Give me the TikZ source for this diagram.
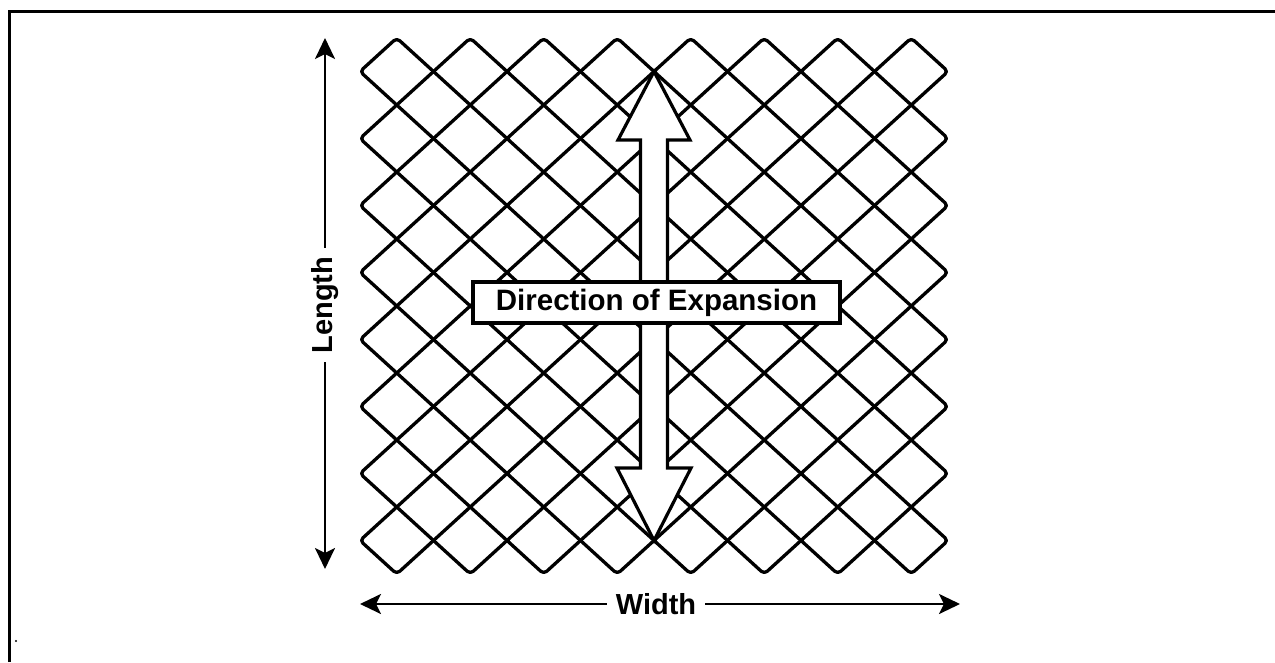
\documentclass[tikz,border=0pt]{standalone}
\usepackage{fontspec}
\setmainfont{Liberation Sans}
\usetikzlibrary{arrows.meta}
\begin{document}
\begin{tikzpicture}[x=1pt,y=-1pt,
  mesh/.style={line width=3.3pt, rounded corners=4pt, line join=round},
  bond/.style={line width=3.3pt},
  dimarrow/.style={line width=2.8pt, -{Stealth[length=21pt,width=20pt,inset=5pt]}},
  lbl/.style={font=\bfseries\fontsize{29}{31}\selectfont, inner sep=0pt, outer xsep=9pt},
  bigarrow/.style={draw, fill=white, line width=3.2pt, line join=miter},
  labelbox/.style={draw, fill=white, line width=3.2pt, minimum width=367pt, minimum height=41pt, inner sep=0pt, font=\bfseries\fontsize{29.5}{31}\selectfont}
]
\useasboundingbox (0,0) rectangle (1275,662);
\draw[line width=3pt] (9,662) -- (9,11) -- (1275,11);
\fill (16,641) circle (1.2pt);
% mesh
\foreach \c in {1,3,...,15} {
  \draw[mesh] (360,{38+33.5*\c}) -- ({360+36.75*(16-\c)},574) -- (948,{38+33.5*(16-\c)}) -- ({360+36.75*\c},38) -- cycle;
}
\foreach \i in {1,...,15} {
  \foreach \k in {1,...,15} {
    \ifodd\numexpr\i+\k\relax
      \draw[bond] ({360+36.75*\i-2.5},{38+33.5*\k}) -- ++(5,0);
    \fi
  }
}
% big double arrow
\draw[bigarrow] (654,71.5) -- (690,140) -- (667.5,140) -- (667.5,468) -- (691,468) -- (654,540.5) -- (617,468) -- (640.5,468) -- (640.5,140) -- (618,140) -- cycle;
\node[labelbox] (dir) at (656.5,302.5) {Direction of Expansion};
% length
\node[lbl, rotate=90] (len) at (325,305) {Length};
\coordinate (lt) at (325,38);
\coordinate (lb) at (325,569);
\draw[dimarrow] (len.east) -- (lt);
\draw[dimarrow] (len.west) -- (lb);
% width
\node[lbl] (wid) at (656,604) {Width};
\coordinate (wl) at (360,604);
\coordinate (wr) at (960,604);
\draw[dimarrow] (wid.west) -- (wl);
\draw[dimarrow] (wid.east) -- (wr);
\end{tikzpicture}
\end{document}
